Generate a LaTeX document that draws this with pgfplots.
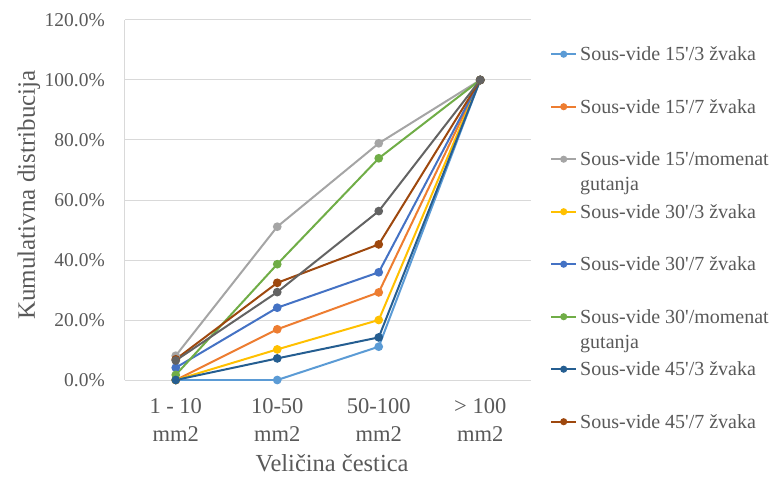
\documentclass[border=0pt]{standalone}
\usepackage{pgfplots}
\pgfplotsset{compat=1.18}
\usepackage{fontspec}
\setmainfont{Liberation Serif}
\definecolor{c1}{HTML}{5B9BD5}
\definecolor{c2}{HTML}{ED7D31}
\definecolor{c3}{HTML}{A5A5A5}
\definecolor{c4}{HTML}{FFC000}
\definecolor{c5}{HTML}{4472C4}
\definecolor{c6}{HTML}{70AD47}
\definecolor{c7}{HTML}{255E91}
\definecolor{c8}{HTML}{9E480E}
\definecolor{c9}{HTML}{636363}
\definecolor{gridgray}{HTML}{D9D9D9}
\definecolor{txtgray}{HTML}{595959}
\newcommand{\leg}[1]{\raisebox{-0.33em}{\begin{tabular}[t]{@{}l@{}}#1\end{tabular}}}
\newcommand{\q}{\textquotesingle}
\begin{document}
\begin{tikzpicture}[x=1pt,y=1pt]
\useasboundingbox (-125,-97) rectangle (648,380);
\begin{axis}[
  at={(0,0)}, anchor=south west,
  scale only axis, width=406pt, height=360pt,
  xmin=-0.5, xmax=3.5, ymin=0, ymax=120,
  xtick={0,1,2,3},
  xticklabels={{1 - 10\\mm2},{10-50\\mm2},{50-100\\mm2},{> 100\\mm2}},
  xticklabel style={align=center, font=\fontsize{22.5}{28}\selectfont, text=txtgray, inner sep=0pt, yshift=-18pt},
  ytick={0,20,40,60,80,100,120},
  yticklabels={0.0\%,20.0\%,40.0\%,60.0\%,80.0\%,100.0\%,120.0\%},
  yticklabel style={font=\fontsize{19.5}{23}\selectfont, text=txtgray, inner sep=0pt, xshift=-20pt},
  axis x line*=bottom, axis y line*=left,
  axis line style={gridgray, line width=1pt},
  major tick length=0pt,
  ymajorgrids, grid style={gridgray, line width=1pt},
  xlabel={Veličina čestica},
  ylabel={Kumulativna distribucija},
  xlabel style={font=\fontsize{24.5}{29}\selectfont, text=txtgray, at={(axis description cs:0.51,0)}, anchor=base, yshift=-91pt},
  ylabel style={font=\fontsize{25}{30}\selectfont, text=txtgray, at={(axis description cs:-0.2217,0.514)}, anchor=base},
  every axis plot/.append style={line width=2pt, mark=*, mark size=3.3pt},
  legend image code/.code={\draw[mark repeat=2,mark phase=2,mark size=2.5pt] plot coordinates {(0pt,0pt)(12.5pt,0pt)(25pt,0pt)};},
  legend style={at={(axis description cs:1.0468,0.9597)}, anchor=north west, draw=none, fill=none,
    inner sep=0pt, row sep=0pt, column sep=3pt, cells={anchor=base west},
    nodes={inner sep=0pt, text height=19.5pt, text depth=33pt, text=txtgray}, font=\fontsize{20}{25}\selectfont},
]
\addplot[c1, mark options={fill=c1, draw=c1}] coordinates {(0,0) (1,0) (2,11.1) (3,100)};
\addlegendentry{\leg{Sous-vide 15\q/3 žvaka}}
\addplot[c2, mark options={fill=c2, draw=c2}] coordinates {(0,0) (1,16.9) (2,29.2) (3,100)};
\addlegendentry{\leg{Sous-vide 15\q/7 žvaka}}
\addplot[c3, mark options={fill=c3, draw=c3}] coordinates {(0,8.1) (1,51.1) (2,78.9) (3,100)};
\addlegendentry{\leg{Sous-vide 15\q/momenat\\gutanja}}
\addplot[c4, mark options={fill=c4, draw=c4}] coordinates {(0,0) (1,10.2) (2,20.0) (3,100)};
\addlegendentry{\leg{Sous-vide 30\q/3 žvaka}}
\addplot[c5, mark options={fill=c5, draw=c5}] coordinates {(0,4.1) (1,24.1) (2,35.9) (3,100)};
\addlegendentry{\leg{Sous-vide 30\q/7 žvaka}}
\addplot[c6, mark options={fill=c6, draw=c6}] coordinates {(0,1.7) (1,38.6) (2,73.9) (3,100)};
\addlegendentry{\leg{Sous-vide 30\q/momenat\\gutanja}}
\addplot[c7, mark options={fill=c7, draw=c7}] coordinates {(0,0) (1,7.2) (2,14.2) (3,100)};
\addlegendentry{\leg{Sous-vide 45\q/3 žvaka}}
\addplot[c8, mark options={fill=c8, draw=c8}] coordinates {(0,6.9) (1,32.4) (2,45.2) (3,100)};
\addlegendentry{\leg{Sous-vide 45\q/7 žvaka}}
\addplot[c9, mark options={fill=c9, draw=c9}, forget plot] coordinates {(0,6.5) (1,29.3) (2,56.3) (3,100)};
\end{axis}
\end{tikzpicture}
\end{document}
